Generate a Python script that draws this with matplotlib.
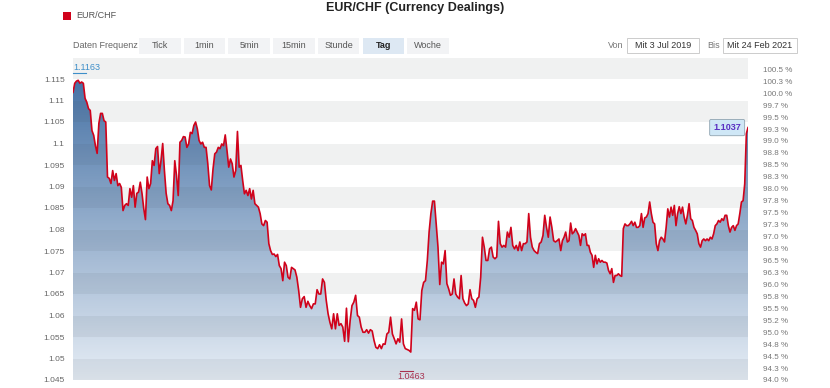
import numpy as np
import pandas as pd
import matplotlib
matplotlib.use('Agg')
from matplotlib import pyplot as plt
import matplotlib.dates as mdates
from matplotlib.colors import LinearSegmentedColormap
from matplotlib.patches import Rectangle
from matplotlib.lines import Line2D

plt.rcParams['font.family'] = ['Liberation Sans', 'DejaVu Sans']

# EUR/CHF daily closes, split in date segments
seg_dates = ['2019-07-03', '2019-10-11', '2020-01-17', '2020-05-14',
             '2020-09-10', '2020-12-13', '2021-02-24']
closes_a = [
    1.1119, 1.1140, 1.1145, 1.1147, 1.1140, 1.1143, 1.1140, 1.1105, 1.1096, 1.1081,
    1.1077, 1.1030, 1.1019, 1.0995, 1.0977, 1.1047, 1.1070, 1.1070, 1.1053, 1.1050,
    1.0922, 1.0919, 1.0907, 1.0937, 1.0914, 1.0930, 1.0902, 1.0907, 1.0898, 1.0844,
    1.0856, 1.0860, 1.0856, 1.0895, 1.0875, 1.0902, 1.0852, 1.0884, 1.0887, 1.0910,
    1.0884, 1.0849, 1.0823, 1.0922, 1.0895, 1.0907, 1.0960, 1.0949, 1.0988, 1.0993,
    1.0930, 1.0960, 1.1000, 1.0937, 1.0884, 1.0860, 1.0856, 1.0844, 1.0867, 1.0960,
    1.0926, 1.0879, 1.1003, 1.1007, 1.1016,
]
closes_b = [
    1.1015, 1.0991, 1.0999, 1.1026, 1.1023, 1.1042, 1.1050, 1.1034, 1.1007, 1.0999,
    1.1003, 1.0991, 1.0991, 1.0953, 1.0902, 1.0892, 1.0941, 1.0976, 1.0980, 1.0991,
    1.0988, 1.0999, 1.0995, 1.1020, 1.0984, 1.0945, 1.0964, 1.0953, 1.0922, 1.0937,
    1.1028, 1.0945, 1.0949, 1.0914, 1.0883, 1.0891, 1.0879, 1.0895, 1.0871, 1.0891,
    1.0860, 1.0856, 1.0852, 1.0837, 1.0813, 1.0809, 1.0821, 1.0817, 1.0767, 1.0751,
    1.0742, 1.0743, 1.0737, 1.0742, 1.0716, 1.0709, 1.0681, 1.0724, 1.0716, 1.0689,
    1.0685, 1.0712, 1.0709,
]
closes_c = [
    1.0706, 1.0689, 1.0658, 1.0619, 1.0639, 1.0644, 1.0619, 1.0633, 1.0623, 1.0616,
    1.0627, 1.0627, 1.0660, 1.0650, 1.0650, 1.0685, 1.0677, 1.0635, 1.0604, 1.0584,
    1.0569, 1.0604, 1.0569, 1.0604, 1.0577, 1.0581, 1.0573, 1.0540, 1.0617, 1.0539,
    1.0588, 1.0623, 1.0631, 1.0647, 1.0600, 1.0596, 1.0573, 1.0561, 1.0561, 1.0567,
    1.0559, 1.0567, 1.0564, 1.0542, 1.0526, 1.0523, 1.0532, 1.0523, 1.0534, 1.0533,
    1.0557, 1.0561, 1.0596, 1.0557, 1.0546, 1.0534, 1.0546, 1.0538, 1.0592, 1.0534,
    1.0523, 1.0521, 1.0519, 1.0515, 1.0616, 1.0612, 1.0631, 1.0592, 1.0590, 1.0658,
    1.0677, 1.0681,
]
closes_d = [
    1.0728, 1.0794, 1.0837, 1.0866, 1.0866, 1.0813, 1.0759, 1.0672, 1.0724, 1.0720,
    1.0751, 1.0674, 1.0662, 1.0647, 1.0650, 1.0685, 1.0650, 1.0643, 1.0639, 1.0693,
    1.0639, 1.0629, 1.0623, 1.0627, 1.0660, 1.0639, 1.0635, 1.0619, 1.0639, 1.0643,
    1.0689, 1.0782, 1.0759, 1.0728, 1.0728, 1.0755, 1.0759, 1.0736, 1.0732, 1.0736,
    1.0819, 1.0767, 1.0759, 1.0763, 1.0759, 1.0794, 1.0782, 1.0805, 1.0763, 1.0755,
    1.0763, 1.0751, 1.0771, 1.0751, 1.0767, 1.0767, 1.0771, 1.0837, 1.0782, 1.0759,
    1.0751, 1.0747, 1.0744, 1.0767, 1.0771, 1.0786, 1.0833, 1.0805, 1.0782, 1.0829,
    1.0805, 1.0774, 1.0771, 1.0774, 1.0778,
]
closes_e = [
    1.0751, 1.0774, 1.0782, 1.0794, 1.0771, 1.0774, 1.0815, 1.0790, 1.0794, 1.0802,
    1.0794, 1.0786, 1.0763, 1.0790, 1.0786, 1.0790, 1.0763, 1.0763, 1.0747, 1.0740,
    1.0712, 1.0740, 1.0720, 1.0732, 1.0724, 1.0728, 1.0724, 1.0724, 1.0722, 1.0705,
    1.0697, 1.0709, 1.0677, 1.0693, 1.0693, 1.0697, 1.0693, 1.0691, 1.0802, 1.0813,
    1.0809, 1.0809, 1.0813, 1.0819, 1.0809, 1.0817, 1.0805, 1.0805, 1.0809, 1.0837,
    1.0805, 1.0827, 1.0829, 1.0837, 1.0864, 1.0837, 1.0817, 1.0813, 1.0767, 1.0751,
    1.0774, 1.0782, 1.0778, 1.0771,
]
closes_f = [
    1.0805, 1.0848, 1.0829, 1.0852, 1.0833, 1.0856, 1.0809, 1.0837, 1.0853, 1.0837,
    1.0852, 1.0829, 1.0813, 1.0833, 1.0860, 1.0825, 1.0821, 1.0805, 1.0798, 1.0790,
    1.0767, 1.0759, 1.0774, 1.0778, 1.0774, 1.0778, 1.0774, 1.0782, 1.0778, 1.0790,
    1.0809, 1.0813, 1.0821, 1.0817, 1.0825, 1.0821, 1.0833, 1.0833, 1.0809, 1.0794,
    1.0805, 1.0809, 1.0798, 1.0809, 1.0813, 1.0837, 1.0864, 1.0867, 1.0906, 1.1023,
    1.1037,
]
segments = [closes_a, closes_b, closes_c, closes_d, closes_e, closes_f]
period_high = 1.1163
period_low = 1.0463

y_ticks = [1.045, 1.05, 1.055, 1.06, 1.065, 1.07, 1.075, 1.08, 1.085, 1.09,
           1.095, 1.1, 1.105, 1.11, 1.115]
y_ticklabels = ['1.045', '1.05', '1.055', '1.06', '1.065', '1.07', '1.075', '1.08',
                '1.085', '1.09', '1.095', '1.1', '1.105', '1.11', '1.115']
pct_labels = ['94.0 %', '94.3 %', '94.5 %', '94.8 %', '95.0 %', '95.2 %', '95.5 %',
              '95.8 %', '96.0 %', '96.3 %', '96.5 %', '96.8 %', '97.0 %', '97.3 %',
              '97.5 %', '97.8 %', '98.0 %', '98.3 %', '98.5 %', '98.8 %', '99.0 %',
              '99.3 %', '99.5 %', '99.7 %', '100.0 %', '100.3 %', '100.5 %']
frequencies = ['Tick', '1min', '5min', '15min', 'Stunde', 'Tag', 'Woche']
active_freq = 'Tag'
date_from = 'Mit 3 Jul 2019'
date_to = 'Mit 24 Feb 2021'

W, H = 830, 388
y_min, y_max = 1.045, 1.12
pct_base = 1.045 / 0.94   # percent axis reference level

# spread each segment's closes evenly between its start and end dates
date_parts, closes = [], []
for i, seg in enumerate(segments):
    last = i == len(segments) - 1
    rng = pd.date_range(seg_dates[i], seg_dates[i + 1], periods=len(seg) + (0 if last else 1))
    date_parts.append(rng if last else rng[:-1])
    closes += seg
dates = date_parts[0].append(date_parts[1:])
xd = mdates.date2num(dates.to_pydatetime())
yv = np.array(closes)

fig = plt.figure(figsize=(W / 100, H / 100), dpi=100)
ax = fig.add_axes([73 / W, 1 - 380 / H, (748 - 73) / W, (380 - 57.5) / H])

# alternating plot bands (drawn over the fill with light alpha)
for k in range(0, len(y_ticks), 2):
    lo = y_ticks[k]
    ax.axhspan(lo, lo + 0.005, color='#3c4650', alpha=0.075, lw=0, zorder=3)

# gradient area fill
poly = ax.fill_between(xd, yv, y_min, color='none', lw=0)
cmap = LinearSegmentedColormap.from_list('area', ['#e6edf5', '#4470a4'])
grad = np.linspace(0, 1, 256).reshape(-1, 1)
im = ax.imshow(grad, cmap=cmap, aspect='auto', origin='lower',
               extent=[xd[0], xd[-1], y_min, period_high], zorder=2)
im.set_clip_path(poly.get_paths()[0], transform=ax.transData)
ax.set_xlim(xd[0], xd[-1])
ax.set_ylim(y_min, y_max)

ax.plot(xd, yv, color='#d0021b', lw=1.2, zorder=5, solid_joinstyle='round')

for s in ax.spines.values():
    s.set_visible(False)
ax.set_xticks([])
ax.set_yticks(y_ticks)
ax.set_yticklabels(y_ticklabels)
ax.tick_params(axis='y', length=0, pad=6, labelsize=6, labelcolor='#666666')

ax2 = ax.twinx()
ax2.set_ylim(y_min / pct_base * 100, y_max / pct_base * 100)
ax2.set_yticks([94 + 0.25 * k for k in range(len(pct_labels))])
ax2.set_yticklabels(pct_labels)
ax2.tick_params(axis='y', length=0, pad=11, labelsize=5.8, labelcolor='#777777')
for s in ax2.spines.values():
    s.set_visible(False)

# high / low labels
ax.annotate(f'{period_high:.4f}', xy=(xd[0], y_max), xytext=(0, -7),
            textcoords='offset points', ha='left', va='center',
            fontsize=6.5, color='#3d8ec9', zorder=6)
fig.add_artist(Line2D([73 / W, 86 / W], [1 - 73 / H, 1 - 73 / H],
                      color='#3d8ec9', lw=0.8))
i_low = int(np.argmin(yv))
ax.annotate(f'{period_low:.4f}', xy=(xd[i_low], y_min), xytext=(0, 2.5),
            textcoords='offset points', ha='center', va='center',
            fontsize=6.5, color='#a8324f', zorder=6)
fig.add_artist(Line2D([400 / W, 413 / W], [1 - 370.5 / H, 1 - 370.5 / H],
                      color='#a8324f', lw=0.8))

# last value callout
ax.annotate(f'{closes[-1]:.4f}', xy=(xd[-1], yv[-1]), xytext=(-15, 0),
            textcoords='offset points', ha='center', va='center',
            fontsize=6.5, fontweight='bold', color='#5a2fc2', zorder=7,
            bbox=dict(boxstyle='round,pad=0.4,rounding_size=0.15',
                      fc='#cfe7f6', ec='#8fa3b0', lw=0.6))

# header: title, legend, frequency buttons, date range
fig.text(415 / W, 1 - 7.5 / H, 'EUR/CHF (Currency Dealings)', ha='center', va='center',
         fontsize=9, fontweight='bold', color='#222222')
fig.add_artist(Rectangle((63 / W, 1 - 20 / H), 8 / W, 8 / H, transform=fig.transFigure,
                         color='#d0021b', lw=0))
fig.text(76 / W, 1 - 16 / H, 'EUR/CHF', ha='left', va='center', fontsize=6.5,
         color='#555555')

fig.text(73 / W, 1 - 46 / H, 'Daten Frequenz', ha='left', va='center', fontsize=6.5,
         color='#666666')
bx0 = 139
for i, f in enumerate(frequencies):
    x0 = bx0 + i * 44.7
    is_on = f == active_freq
    fig.add_artist(Rectangle((x0 / W, 1 - 54 / H), 41.5 / W, 16.5 / H,
                             transform=fig.transFigure, lw=0,
                             color='#dde8f3' if is_on else '#f2f3f5'))
    fig.text((x0 + 20.75) / W, 1 - 45.5 / H, f, ha='center', va='center',
             fontsize=6.5, color='#222222' if is_on else '#555555',
             fontweight='bold' if is_on else 'normal')

fig.text(608 / W, 1 - 45 / H, 'Von', ha='left', va='center', fontsize=6.5, color='#777777')
fig.add_artist(Rectangle((627 / W, 1 - 52.5 / H), 72 / W, 14.5 / H,
                         transform=fig.transFigure, fc='white', ec='#cccccc', lw=0.7))
fig.text(663 / W, 1 - 45 / H, date_from, ha='center', va='center', fontsize=6.5,
         color='#333333')
fig.text(707 / W, 1 - 45 / H, 'Bis', ha='left', va='center', fontsize=6.5, color='#777777')
fig.add_artist(Rectangle((723 / W, 1 - 52.5 / H), 74 / W, 14.5 / H,
                         transform=fig.transFigure, fc='white', ec='#cccccc', lw=0.7))
fig.text(760 / W, 1 - 45 / H, date_to, ha='center', va='center', fontsize=6.5,
         color='#333333')

fig.savefig('out.png', dpi=100)
